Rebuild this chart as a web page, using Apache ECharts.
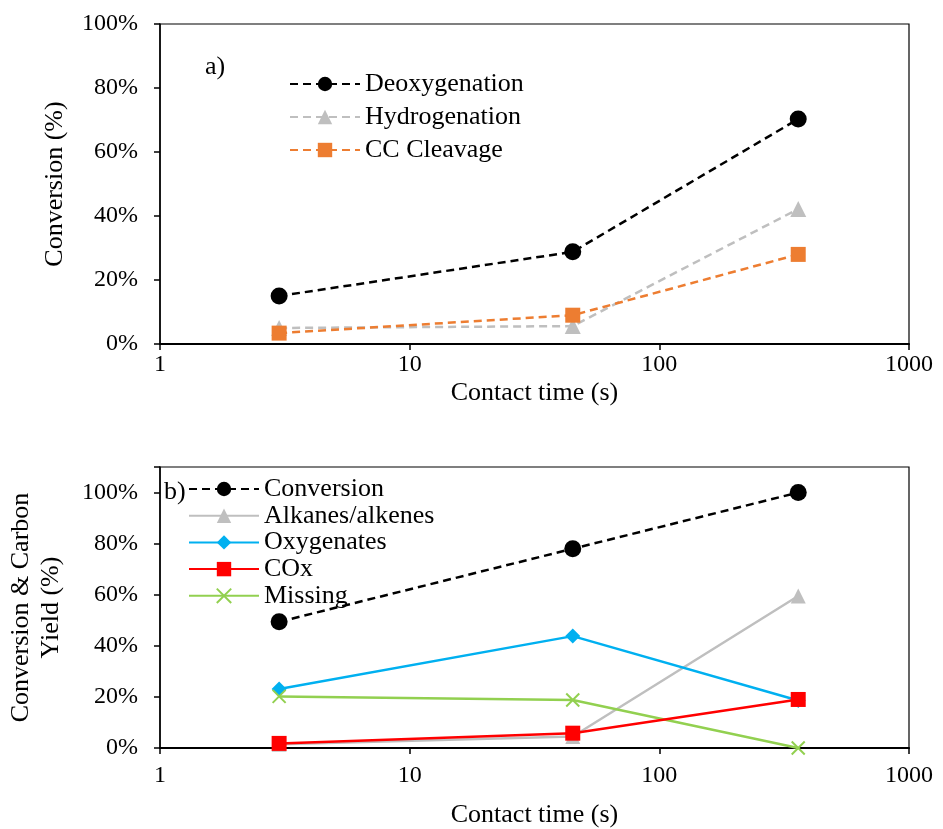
<!DOCTYPE html>
<html>
<head>
<meta charset="utf-8">
<script src="https://cdn.jsdelivr.net/npm/echarts@6/dist/echarts.min.js"></script>
<style>
  html, body { margin: 0; padding: 0; background: #fff; }
  #chart { width: 943px; height: 829px; }
</style>
</head>
<body>
<div id="chart"></div>
<script>
// Contact times (s)
const contactTime = [3, 45, 360];

// Panel a) conversions (%)
const deoxygenation = [15.0, 28.8, 70.3];
const hydrogenation = [5.0, 5.6, 42.2];
const ccCleavage = [3.4, 9.0, 28.0];

// Panel b) conversion and carbon yields (%)
const conversion = [49.4, 78.0, 100.0];
const alkanes = [1.5, 4.5, 59.5];
const oxygenates = [23.1, 43.8, 18.6];
const cox = [1.8, 5.8, 19.0];
const missing = [20.2, 18.8, 0.0];

const xTicks = [1, 10, 100, 1000];
const yTicks = [0, 20, 40, 60, 80, 100];

const FONT = 'Liberation Serif';
const TICK_SIZE = 24;
const TEXT_SIZE = 26;
const pairs = ys => contactTime.map((x, i) => [x, ys[i]]);

function xAxis(gridIndex, labelMargin, nameGap) {
  return {
    type: 'log', logBase: 10, min: xTicks[0], max: xTicks[xTicks.length - 1],
    gridIndex,
    name: 'Contact time (s)', nameLocation: 'middle', nameGap,
    nameTextStyle: { fontFamily: FONT, fontSize: TEXT_SIZE, color: '#000' },
    axisLine: { lineStyle: { color: '#000', width: 2 } },
    axisTick: { show: true, inside: false, length: 6, lineStyle: { color: '#000', width: 1.5 } },
    minorTick: { show: false },
    axisLabel: {
      fontFamily: FONT, fontSize: TICK_SIZE, color: '#000', margin: labelMargin,
      formatter: v => String(Math.round(v))
    },
    splitLine: { show: false }
  };
}

function yAxis(gridIndex, max, name, nameGap) {
  return {
    type: 'value', min: 0, max, interval: 20, gridIndex,
    name, nameLocation: 'middle', nameGap, nameRotate: 90,
    nameTextStyle: { fontFamily: FONT, fontSize: TEXT_SIZE, color: '#000', lineHeight: 30 },
    axisLine: { show: true, lineStyle: { color: '#000', width: 1.5 } },
    axisTick: { show: true, inside: false, length: 6, lineStyle: { color: '#000', width: 1.5 } },
    axisLabel: {
      fontFamily: FONT, fontSize: TICK_SIZE, color: '#000', margin: 22,
      formatter: v => (yTicks.indexOf(v) >= 0 ? v + '%' : '')
    },
    splitLine: { show: false }
  };
}

function line(name, data, xi, color, symbol, size, dashed, extra) {
  return Object.assign({
    name, type: 'line', xAxisIndex: xi, yAxisIndex: xi,
    data: pairs(data),
    symbol, symbolSize: size,
    lineStyle: { color, width: 2.5, type: dashed ? [8, 5] : 'solid' },
    itemStyle: { color },
    z: 2
  }, extra || {});
}

const crossPath = 'path://M0,0 L10,10 M10,0 L0,10';

const legendText = { fontFamily: FONT, fontSize: TEXT_SIZE, color: '#000', lineHeight: 26, padding: [0, 0, 0, 0] };

const chart = echarts.init(document.getElementById('chart'), null, { renderer: 'canvas' });
chart.setOption({
  animation: false,
  backgroundColor: '#fff',
  grid: [
    { left: 160, top: 24, width: 749, height: 320, show: true, borderColor: '#000', borderWidth: 1.2,
      backgroundColor: 'transparent', outerBoundsMode: 'none', containLabel: false },
    { left: 160, top: 467, width: 749, height: 281, show: true, borderColor: '#000', borderWidth: 1.2,
      backgroundColor: 'transparent', outerBoundsMode: 'none', containLabel: false }
  ],
  xAxis: [xAxis(0, 9, 36), xAxis(1, 16, 54)],
  yAxis: [
    yAxis(0, 100, 'Conversion (%)', 90),
    yAxis(1, 110, 'Conversion & Carbon\nYield (%)', 94)
  ],
  legend: [
    {
      data: ['Deoxygenation', 'Hydrogenation', 'CC Cleavage'],
      orient: 'vertical', left: 284, top: 66, itemGap: 7,
      itemWidth: 70, itemHeight: 18,
      textStyle: legendText
    },
    {
      data: ['Conversion', 'Alkanes/alkenes', 'Oxygenates', 'COx', 'Missing'],
      orient: 'vertical', left: 183, top: 471, itemGap: 0.7,
      itemWidth: 70, itemHeight: 18,
      textStyle: legendText
    }
  ],
  graphic: [
    { type: 'text', left: 205, top: 54, style: { text: 'a)', font: '26px "Liberation Serif"', fill: '#000' } },
    { type: 'text', left: 164, top: 479, style: { text: 'b)', font: '26px "Liberation Serif"', fill: '#000' } }
  ],
  series: [
    line('Deoxygenation', deoxygenation, 0, '#000000', 'circle', 17, true),
    line('Hydrogenation', hydrogenation, 0, '#BFBFBF', 'triangle', 16, true),
    line('CC Cleavage', ccCleavage, 0, '#ED7D31', 'rect', 15, true),

    line('Conversion', conversion, 1, '#000000', 'circle', 17, true),
    line('Alkanes/alkenes', alkanes, 1, '#BFBFBF', 'triangle', 15, false),
    line('Oxygenates', oxygenates, 1, '#00B0F0', 'diamond', 15, false),
    line('COx', cox, 1, '#FF0000', 'rect', 15, false, { z: 3 }),
    line('Missing', missing, 1, '#92D050', crossPath, 13, false, {
      itemStyle: { color: 'rgba(0,0,0,0)', borderColor: '#92D050', borderWidth: 2 },
      lineStyle: { color: '#92D050', width: 2.5 }
    })
  ]
});
</script>
</body>
</html>
